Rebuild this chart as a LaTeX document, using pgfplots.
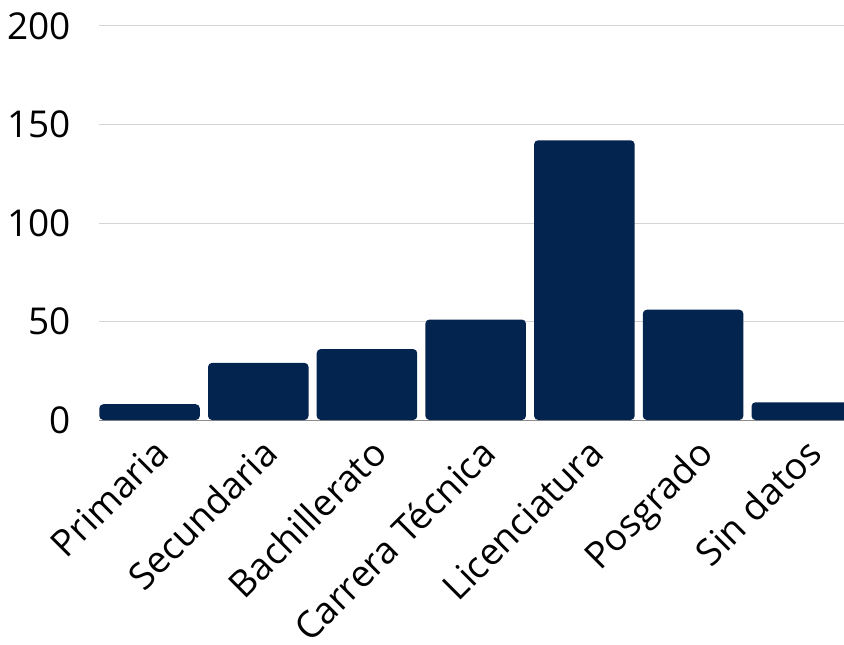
\documentclass[border=0pt]{standalone}
\usepackage{fontspec}
\setmainfont{Open Sans}
\usepackage{pgfplots}
\pgfplotsset{compat=1.18}
\usetikzlibrary{calc}
\definecolor{navy}{HTML}{042450}
\definecolor{gridgray}{HTML}{D4D4D4}
\definecolor{zerogray}{HTML}{8C8C8C}

\begin{document}
\begin{tikzpicture}
\begin{axis}[
    scale only axis,
    width=744.7pt, height=394pt,
    xmin=-0.4625, xmax=6.3885,
    ymin=0, ymax=200,
    ytick={0,50,100,150,200},
    xtick={0,...,6},
    xticklabels={Primaria,Secundaria,Bachillerato,Carrera Técnica,Licenciatura,Posgrado,Sin datos},
    ymajorgrids,
    grid style={gridgray, line width=1pt},
    axis line style={draw=none},
    major tick length=0pt,
    tick style={draw=none},
    /pgf/number format/assume math mode=true,
    ticklabel style={font=\fontsize{37}{44}\selectfont, inner sep=0pt},
    yticklabel style={xshift=-28pt},
    xticklabel style={yshift=-16pt, xshift=2pt, rotate=45, anchor=north east},
    ybar, bar width=100.5pt,
    extra y ticks={0}, extra y tick labels={},
    extra y tick style={grid style={zerogray, line width=1pt}},
]
\addplot[fill=navy, draw=none, rounded corners=4pt]
    coordinates {(0,8)(1,29)(2,36)(3,51)(4,142)(5,56)(6,9)};
\coordinate (ll) at (rel axis cs:0,0);
\coordinate (ur) at (rel axis cs:1,1);
\end{axis}
\pgfresetboundingbox
\path[use as bounding box] ($(ll)+(-99.3pt,-224.3pt)$) rectangle ($(ur)+(0pt,26pt)$);
\end{tikzpicture}
\end{document}
